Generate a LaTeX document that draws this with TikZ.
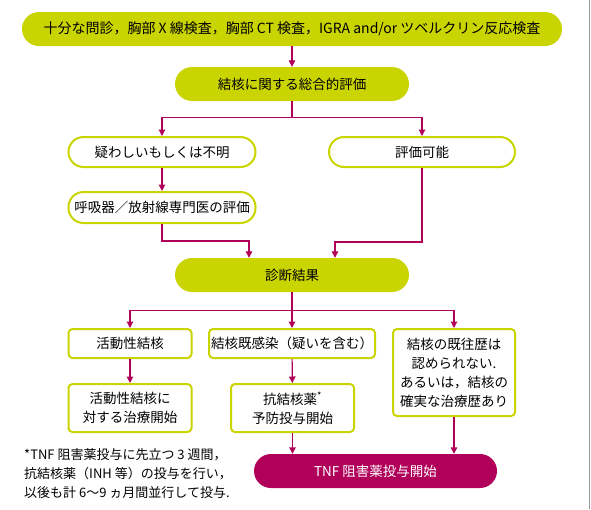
\documentclass[tikz,border=0pt]{standalone}
\usepackage{fontspec}
\setmainfont{Noto Sans CJK JP}
\usetikzlibrary{arrows.meta,positioning}
\definecolor{leaf}{RGB}{202,212,0}
\definecolor{berry}{RGB}{176,0,90}

\begin{document}
\begin{tikzpicture}[x=1pt,y=-1pt,
  pill/.style={rounded corners=15pt,minimum height=30pt,inner sep=0pt,
               font=\fontsize{13.5}{19}\selectfont},
  fullpill/.style={pill,fill=leaf,rounded corners=17pt,minimum height=34pt},
  openpill/.style={pill,draw=leaf,line width=2pt,fill=white},
  box/.style={draw=leaf,line width=2pt,rounded corners=4pt,align=center,
              inner sep=0pt,font=\fontsize{13.5}{19}\selectfont},
  startpill/.style={pill,fill=berry,text=white,rounded corners=17pt,minimum height=34pt},
  edge/.style={draw=berry,line width=1.2pt,-{Triangle[length=6.5pt,width=6.5pt]}},
  note/.style={align=left,inner sep=0pt,font=\fontsize{13}{19}\selectfont}
]
  \useasboundingbox (0,0) rectangle (591,509);
  \draw[black!40,line width=1pt] (589,0) -- (589,509);

  % screening and assessment
  \node[fullpill,minimum width=540pt,font=\fontsize{14}{19}\selectfont] (screen) at (292,29)
    {十分な問診，胸部 X 線検査，胸部 CT 検査，IGRA and/or ツベルクリン反応検査};
  \node[fullpill,minimum width=234pt] (overall) at (292,84) {結核に関する総合的評価};
  \node[openpill,minimum width=187pt] (doubt) at (162,152) {疑わしいもしくは不明};
  \node[openpill,minimum width=186pt] (able) at (422,152) {評価可能};
  \node[openpill,minimum width=187pt,minimum height=31pt] (expert) at (162,207.5)
    {呼吸器／放射線専門医の評価};
  \node[fullpill,minimum width=234pt] (result) at (292,275) {診断結果};

  \draw[edge] (screen) -- (overall);
  \draw[edge] (overall.south) -- ++(0,16) -| (doubt.north);
  \draw[edge] (overall.south) -- ++(0,16) -| (able.north);
  \draw[edge] (doubt) -- (expert);
  \draw[edge] (expert.south) -- ++(0,17) -| ([xshift=-43pt]result.north);
  \draw[edge] (able.south) -- ++(0,74) -| ([xshift=43pt]result.north);

  % diagnosis branches
  \node[box,minimum width=123pt,minimum height=29pt] (active) at (130,343.5) {活動性結核};
  \node[box,minimum width=166pt,minimum height=29pt] (latent) at (292,343.5)
    {結核既感染（疑いを含む）};
  \node[box,minimum width=122pt,minimum height=87pt] (history) at (454,372.5)
    {結核の既往歴は\\認められない.\\あるいは，結核の\\確実な治療歴あり};
  \node[box,minimum width=123pt,minimum height=48pt] (treat) at (130,408)
    {活動性結核に\\対する治療開始};
  \node[box,minimum width=123pt,minimum height=48pt] (prophy) at (292.5,408)
    {抗結核薬\textsuperscript{*}\\予防投与開始};
  \node[startpill,minimum width=243pt] (tnf) at (375.5,471) {TNF 阻害薬投与開始};

  \draw[edge] (result.south) -- ++(0,18) -| (active.north);
  \draw[edge] (result) -- (latent);
  \draw[edge] (result.south) -- ++(0,18) -| (history.north);
  \draw[edge] (active) -- (treat);
  \draw[edge] (latent) -- (prophy);
  \draw[edge] (prophy.south) -- (prophy.south |- tnf.north);
  \draw[edge] (history.south) -- (history.south |- tnf.north);

  \node[note,anchor=north west] (footnote) at (24,448)
    {*TNF 阻害薬投与に先立つ 3 週間，\\
     抗結核薬（INH 等）の投与を行い，\\
     以後も計 6〜9 ヵ月間並行して投与.};
\end{tikzpicture}
\end{document}
